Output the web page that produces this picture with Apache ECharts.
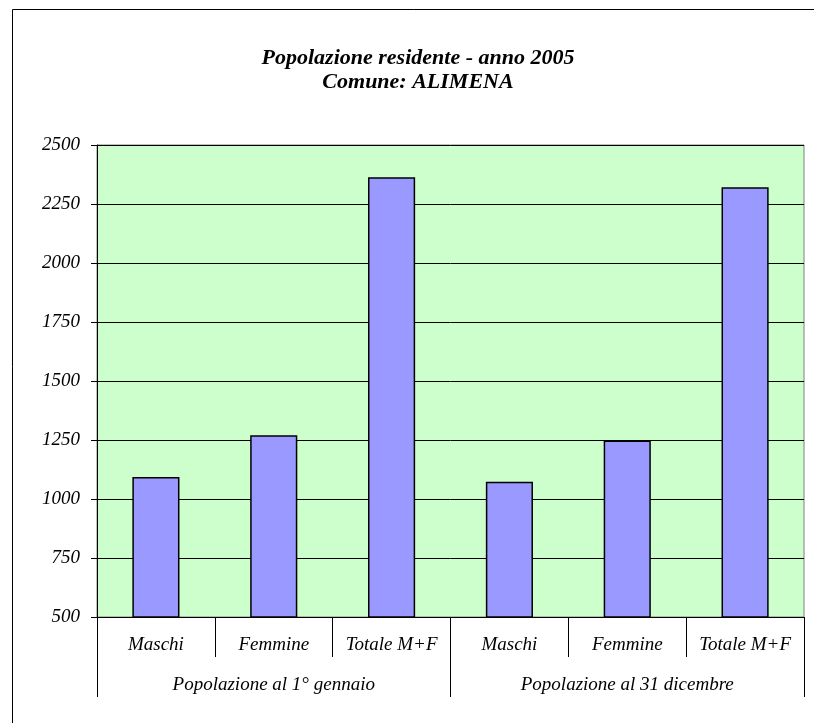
<!DOCTYPE html>
<html>
<head>
<meta charset="utf-8">
<script src="https://cdn.jsdelivr.net/npm/echarts@6/dist/echarts.min.js"></script>
<style>
  html, body { margin: 0; padding: 0; background: #fff; }
  #chart { width: 814px; height: 723px; }
</style>
</head>
<body>
<div id="chart"></div>
<script>
// dati
var categorie = ['Maschi', 'Femmine', 'Totale M+F', 'Maschi', 'Femmine', 'Totale M+F'];
var gruppi = ['Popolazione al 1° gennaio', 'Popolazione al 31 dicembre'];
var valori = [1093, 1270, 2363, 1073, 1248, 2321];
var titolo = 'Popolazione residente - anno 2005\nComune: ALIMENA';

var serif = '"Liberation Serif", "DejaVu Serif", serif';

var chart = echarts.init(document.getElementById('chart'));

var option = {
    backgroundColor: '#fff',
    animation: false,
    graphic: [
        {
            type: 'rect',
            shape: { x: 12.5, y: 9.5, width: 900, height: 800 },
            style: { fill: 'none', stroke: '#000', lineWidth: 1 },
            z: -10
        },
        {
            type: 'text',
            x: 418,
            y: 46,
            style: {
                text: titolo,
                align: 'center',
                verticalAlign: 'top',
                font: 'italic bold 22px ' + serif,
                lineHeight: 24,
                fill: '#000'
            }
        }
    ],
    grid: {
        left: 97,
        right: 10,
        top: 145,
        bottom: 106,
        show: true,
        backgroundColor: '#ccffcc',
        borderColor: '#808080',
        borderWidth: 1
    },
    xAxis: [
        {
            type: 'category',
            data: categorie,
            position: 'bottom',
            axisLine: { lineStyle: { color: '#000', width: 1 } },
            axisTick: { show: true, length: 40, lineStyle: { color: '#000' } },
            axisLabel: {
                interval: 0,
                margin: 18,
                color: '#000',
                fontFamily: serif,
                fontStyle: 'italic',
                fontSize: 19
            },
            splitLine: { show: false }
        },
        {
            type: 'category',
            data: gruppi,
            position: 'bottom',
            axisLine: { show: false },
            axisTick: { show: true, length: 80, lineStyle: { color: '#000' } },
            axisLabel: {
                interval: 0,
                margin: 58,
                color: '#000',
                fontFamily: serif,
                fontStyle: 'italic',
                fontSize: 19
            },
            splitLine: { show: false }
        }
    ],
    yAxis: {
        type: 'value',
        min: 500,
        max: 2500,
        interval: 250,
        axisLine: { show: true, lineStyle: { color: '#000', width: 1 } },
        axisTick: { show: true, length: 6, lineStyle: { color: '#000' } },
        axisLabel: {
            margin: 17,
            color: '#000',
            fontFamily: serif,
            fontStyle: 'italic',
            fontSize: 19,
            formatter: function (v) { return String(v); }
        },
        splitLine: { show: true, lineStyle: { color: '#000', width: 1 } }
    },
    series: [
        {
            type: 'bar',
            xAxisIndex: 0,
            data: valori,
            barWidth: '40%',
            itemStyle: {
                color: '#9999ff',
                borderColor: '#000',
                borderWidth: 1.5
            }
        }
    ]
};

chart.setOption(option);
</script>
</body>
</html>
